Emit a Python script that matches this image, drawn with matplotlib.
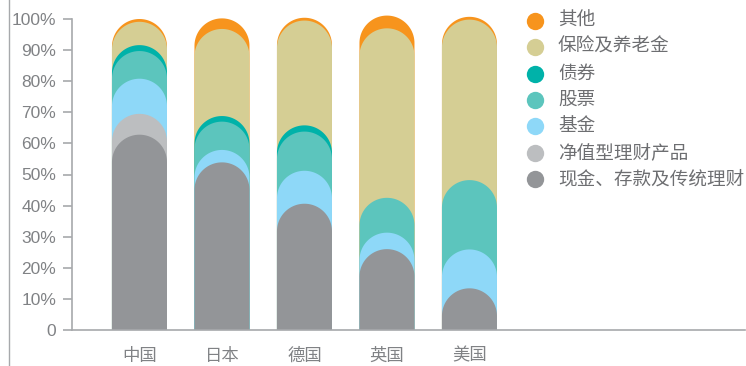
import numpy as np
import matplotlib
matplotlib.use("Agg")
import matplotlib.pyplot as plt
from matplotlib.patches import Polygon
from matplotlib.lines import Line2D

plt.rcParams['font.family'] = ['Liberation Sans', 'Noto Sans CJK SC', 'DejaVu Sans']

countries = ['中国', '日本', '德国', '英国', '美国']

# 各类资产占比 (%), 自下而上
cash = [62.8, 53.9, 40.6, 26.0, 13.4]
nav_products = [6.7, 0.0, 0.0, 0.0, 0.0]
funds = [11.3, 4.0, 10.6, 5.3, 12.5]
stocks = [8.9, 9.1, 12.6, 11.2, 22.3]
bonds = [1.9, 1.8, 2.0, 0.0, 0.0]
insurance = [7.5, 28.0, 33.7, 54.5, 51.6]
others = [0.9, 3.4, 0.9, 4.1, 0.9]

labels = ['现金、存款及传统理财', '净值型理财产品', '基金', '股票', '债券', '保险及养老金', '其他']
colors = ['#939598', '#BCBEC0', '#8ED8F8', '#5CC5BD', '#00B2A9', '#D5CE94', '#F7941D']
series = [cash, nav_products, funds, stocks, bonds, insurance, others]

W, H = 746, 366
fig = plt.figure(figsize=(W / 100, H / 100), dpi=100)
ax = fig.add_axes([72 / W, 1 - 330 / H, (745 - 72) / W, (330 - 19) / H])

x = np.arange(len(countries))
bar_w = 0.667
ax.set_xlim(-0.818, 7.34)
ax.set_ylim(0, 100)

# 圆顶的竖直半径: 在像素空间保持半圆
px_x = ax.get_position().width * W / (7.34 + 0.818)
px_y = ax.get_position().height * H / 100
ry = (bar_w / 2) * px_x / px_y


def round_bar(xc, top, color):
    rx = bar_w / 2
    t = np.linspace(np.pi, 0, 60)
    arc = np.column_stack([xc + rx * np.cos(t), top - ry + ry * np.sin(t)])
    pts = np.vstack([[xc - rx, 0], arc, [xc + rx, 0]])
    ax.add_patch(Polygon(pts, closed=True, facecolor=color, edgecolor='none',
                         clip_on=False))


cum = np.cumsum(np.array(series), axis=0)
for i in range(len(countries)):
    # 从最上层开始画, 下层覆盖上层
    for k in range(len(series) - 1, -1, -1):
        if series[k][i] <= 0:
            continue
        round_bar(x[i], cum[k][i], colors[k])

grey = '#A7A9AC'
ax.spines['top'].set_visible(False)
ax.spines['right'].set_visible(False)
for s in ['left', 'bottom']:
    ax.spines[s].set_color(grey)
    ax.spines[s].set_linewidth(1.2)

ax.set_yticks(range(0, 101, 10))
ax.set_yticklabels(['0'] + [f'{v}%' for v in range(10, 101, 10)])
ax.tick_params(axis='y', length=6.5, width=1.2, color=grey, labelcolor='#808285',
               labelsize=12.5, pad=5)
ax.set_xticks(x)
ax.set_xticklabels(countries)
ax.tick_params(axis='x', length=0, labelcolor='#808285', labelsize=12.5, pad=12)
for lab in ax.get_xticklabels():
    lab.set_family(['Noto Sans CJK SC', 'DejaVu Sans'])

# 左侧竖线
fig.add_artist(Line2D([9 / W, 9 / W], [0, 1], color=grey, linewidth=1.0))

# 图例
leg_y0 = 20.7
leg_dy = 26.4
for j, k in enumerate(range(len(series) - 1, -1, -1)):
    yy = 1 - (leg_y0 + j * leg_dy) / H
    fig.add_artist(Line2D([535 / W], [yy], marker='o', markersize=12.5,
                          markerfacecolor=colors[k], markeredgecolor='none',
                          linestyle='none'))
    fig.text(558 / W, yy, labels[k], fontsize=13.4, color='#6D6E71', va='center',
             ha='left', family=['Noto Sans CJK SC', 'DejaVu Sans'])

fig.savefig('out.png', dpi=100)
